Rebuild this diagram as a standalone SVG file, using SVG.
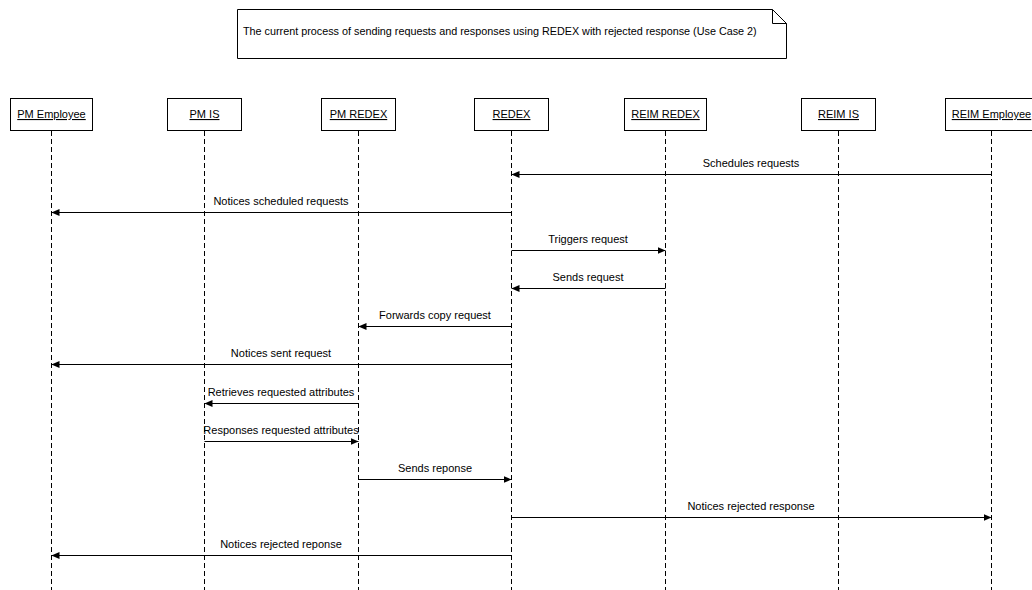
<svg xmlns="http://www.w3.org/2000/svg" width="1032" height="590" viewBox="0 0 1032 590">
<style>
text{font-family:"Liberation Sans",Arial,sans-serif;font-size:11px;fill:#000}
.head rect{fill:#fff;stroke:#000;stroke-width:1}
.head text{text-anchor:middle;text-decoration:underline}
.life{stroke:#000;stroke-width:1;stroke-dasharray:5 3}
.msg line{stroke:#000;stroke-width:1}
.msg text{text-anchor:middle}
</style>
<defs>
<marker id="ah" markerWidth="8" markerHeight="7" refX="8" refY="3.5" orient="auto" markerUnits="userSpaceOnUse">
<path d="M0,0 L8,3.5 L0,7 Z" fill="#000"/>
</marker>
</defs>
<rect width="1032" height="590" fill="#fff"/>
<g id="note">
<path d="M237.5,9.5 H772.5 L786.5,23.5 V58.5 H237.5 Z" fill="#fff" stroke="#000"/>
<path d="M772.5,9.5 V23.5 H786.5" fill="none" stroke="#000"/>
<text x="243" y="35" style="font-size:10.8px">The current process of sending requests and responses using REDEX with rejected response (Use Case 2)</text>
</g>
<g id="lifelines">
<line class="life" x1="51.5" y1="131" x2="51.5" y2="590"/>
<line class="life" x1="204.5" y1="131" x2="204.5" y2="590"/>
<line class="life" x1="358.5" y1="131" x2="358.5" y2="590"/>
<line class="life" x1="511.5" y1="131" x2="511.5" y2="590"/>
<line class="life" x1="665.5" y1="131" x2="665.5" y2="590"/>
<line class="life" x1="838.5" y1="131" x2="838.5" y2="590"/>
<line class="life" x1="991.5" y1="131" x2="991.5" y2="590"/>
</g>
<g id="pm-employee" class="head"><rect x="10.5" y="98.5" width="82" height="32"/><text x="51.5" y="118">PM Employee</text></g>
<g id="pm-is" class="head"><rect x="167.5" y="98.5" width="74" height="32"/><text x="204.5" y="118">PM IS</text></g>
<g id="pm-redex" class="head"><rect x="321.5" y="98.5" width="74" height="32"/><text x="358.5" y="118">PM REDEX</text></g>
<g id="redex" class="head"><rect x="474.5" y="98.5" width="74" height="32"/><text x="511.5" y="118">REDEX</text></g>
<g id="reim-redex" class="head"><rect x="624.5" y="98.5" width="82" height="32"/><text x="665.5" y="118">REIM REDEX</text></g>
<g id="reim-is" class="head"><rect x="801.5" y="98.5" width="74" height="32"/><text x="838.5" y="118">REIM IS</text></g>
<g id="reim-employee" class="head"><rect x="945.5" y="98.5" width="92" height="32"/><text x="991.5" y="118">REIM Employee</text></g>
<g id="messages" class="msg">
<line x1="991.5" y1="174.5" x2="511.5" y2="174.5" marker-end="url(#ah)"/><text x="751" y="167">Schedules requests</text>
<line x1="511.5" y1="212.5" x2="51.5" y2="212.5" marker-end="url(#ah)"/><text x="281" y="205">Notices scheduled requests</text>
<line x1="511.5" y1="250.5" x2="665.5" y2="250.5" marker-end="url(#ah)"/><text x="588" y="243">Triggers request</text>
<line x1="665.5" y1="288.5" x2="511.5" y2="288.5" marker-end="url(#ah)"/><text x="588" y="281">Sends request</text>
<line x1="511.5" y1="326.5" x2="358.5" y2="326.5" marker-end="url(#ah)"/><text x="435" y="319">Forwards copy request</text>
<line x1="511.5" y1="364.5" x2="51.5" y2="364.5" marker-end="url(#ah)"/><text x="281" y="357">Notices sent request</text>
<line x1="358.5" y1="403.5" x2="204.5" y2="403.5" marker-end="url(#ah)"/><text x="281" y="396">Retrieves requested attributes</text>
<line x1="204.5" y1="441.5" x2="358.5" y2="441.5" marker-end="url(#ah)"/><text x="281" y="434">Responses requested attributes</text>
<line x1="358.5" y1="479.5" x2="511.5" y2="479.5" marker-end="url(#ah)"/><text x="435" y="472">Sends reponse</text>
<line x1="511.5" y1="517.5" x2="991.5" y2="517.5" marker-end="url(#ah)"/><text x="751" y="510">Notices rejected response</text>
<line x1="511.5" y1="555.5" x2="51.5" y2="555.5" marker-end="url(#ah)"/><text x="281" y="548">Notices rejected reponse</text>
</g>
</svg>
